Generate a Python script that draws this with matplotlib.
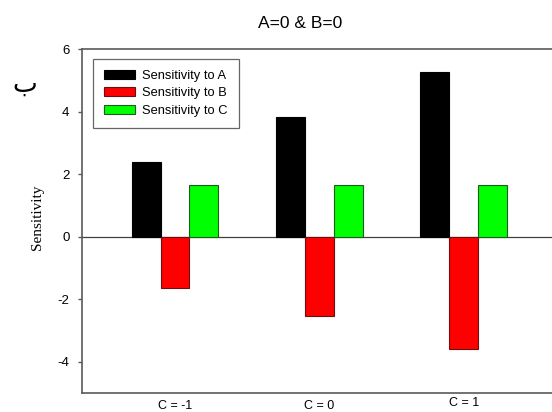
import matplotlib
matplotlib.use("Agg")
import matplotlib.pyplot as plt
import matplotlib.transforms as mtransforms
import numpy as np

# Data
categories = ["C = -1", "C = 0", "C = 1"]
sens_a = [2.40, 3.83, 5.27]
sens_b = [-1.63, -2.54, -3.58]
sens_c = [1.66, 1.66, 1.66]
series_names = ["Sensitivity to A", "Sensitivity to B", "Sensitivity to C"]
y_ticks = [-4, -2, 0, 2, 4, 6]

sans = "Liberation Sans"
serif = "Liberation Serif"
axis_gray = "#5a5a5a"

fig = plt.figure(figsize=(5.52, 4.12), dpi=100)
ax = fig.add_axes([82 / 552, 19 / 412, 490 / 552, 344 / 412])

x = np.arange(len(categories))
w = 0.2
colors = ["#000000", "#ff0000", "#00ff00"]
edges = ["#000000", "#6a1010", "#1f5a1f"]
for i, (vals, c, e, name) in enumerate(zip([sens_a, sens_b, sens_c], colors, edges, series_names)):
    ax.bar(x + (i - 1) * w, vals, width=w, color=c, edgecolor=e, linewidth=0.8,
           label=name, zorder=3)

ax.axhline(0, color="#404040", linewidth=0.9, zorder=2)

ax.set_xlim(-0.644, 2.75)
ax.set_ylim(-5, 6)
ax.set_yticks(y_ticks)
ax.set_yticklabels([str(t) for t in y_ticks], fontfamily=sans, fontsize=9.5)
ax.tick_params(axis="y", direction="out", length=3, width=1, color=axis_gray, pad=6)
ax.set_xticks([])
for side in ["left", "bottom", "top"]:
    ax.spines[side].set_color(axis_gray)
    ax.spines[side].set_linewidth(1.2)
ax.spines["right"].set_visible(False)

# Category labels below the axis (the last one sits a little higher)
trans = mtransforms.blended_transform_factory(ax.transData, fig.transFigure)
label_y = [6 / 412, 6 / 412, 9 / 412]
for xi, lab, ly in zip(x, categories, label_y):
    ax.text(xi, ly, lab, transform=trans, ha="center", va="center",
            fontfamily=sans, fontsize=9, clip_on=False)

ax.set_ylabel("Sensitivity", fontfamily=serif, fontsize=11)
ax.yaxis.set_label_coords(44 / 552, 1 - 217.5 / 412, transform=fig.transFigure)

fig.text(300 / 552, 1 - 23 / 412, "A=0 & B=0", ha="center", va="center",
         fontfamily=sans, fontsize=12.5)
fig.text(25 / 552, 1 - 85 / 412, "ب", ha="center", va="center",
         fontfamily="DejaVu Sans", fontsize=19)

leg = ax.legend(loc="upper left", bbox_to_anchor=(93 / 552, 1 - 59 / 412),
                bbox_transform=fig.transFigure, frameon=True, fancybox=False,
                prop={"family": sans, "size": 9.3}, handlelength=2.4, handleheight=0.7,
                handletextpad=0.55, labelspacing=0.42, borderpad=0.85, borderaxespad=0)
leg.get_frame().set_edgecolor("#404040")
leg.get_frame().set_linewidth(0.9)

fig.savefig("out.png", dpi=100)
